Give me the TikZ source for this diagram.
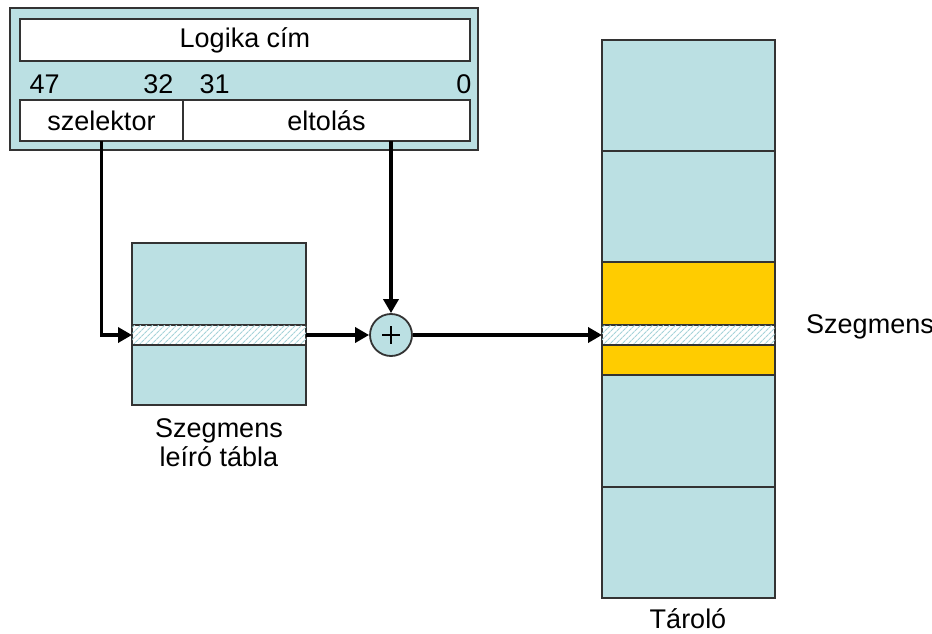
\documentclass[tikz,border=0pt]{standalone}
\usepackage{fontspec}
\setmainfont{Liberation Sans}
\usetikzlibrary{patterns.meta,arrows.meta,calc}
\definecolor{paleblue}{HTML}{BBE0E3}
\definecolor{segorange}{HTML}{FFCC00}
\definecolor{edge}{HTML}{333333}
\definecolor{hatchblue}{HTML}{A6D3D9}

\begin{document}
\begin{tikzpicture}[x=1pt,y=-1pt,
  lbl/.style={font=\fontsize{27}{29}\selectfont},
  cell/.style={draw=edge, line width=1.8pt, inner sep=0pt, outer sep=0pt,
    anchor=north west, lbl},
  mem/.style={cell, fill=paleblue, minimum width=173},
  hatched/.style={cell, fill=white, minimum width=173, minimum height=20,
    postaction={pattern={Lines[angle=45,distance=4pt,line width=1.2pt]},
      pattern color=hatchblue}},
  flow/.style={line width=3.6pt, -{Triangle[length=14pt,width=15pt]}}
]
\useasboundingbox (0,0) rectangle (932,634);

% logical address register
\node[cell, fill=paleblue, line width=2.6pt, minimum width=468, minimum height=142] (addr) at (10,8) {};
\node[cell, fill=white, minimum width=450, minimum height=42] (title) at (20,19) {Logika cím};
\node[lbl, anchor=west] (b47) at (26,84) {47};
\node[lbl, anchor=east] (b32) at (177,84) {32};
\node[lbl, anchor=west] (b31) at (196,84) {31};
\node[lbl, anchor=east] (b0) at (475,84) {0};
\node[cell, fill=white, minimum width=163, minimum height=41] (szel) at (20,100) {szelektor};
\node[cell, fill=white, minimum width=287, minimum height=41] (elt) at (183,100) {eltolás};
\coordinate (eltdrop) at (391,141);

% segment descriptor table
\node[mem, minimum width=174, minimum height=82] (t1) at (132,243) {};
\node[hatched, minimum width=174] (tstrip) at (132,325) {};
\node[mem, minimum width=174, minimum height=60] (t2) at (132,345) {};
\node[lbl, align=center] (tlabel) at (219,443) {Szegmens\\leíró tábla};

% adder
\node[circle, draw=edge, line width=1.8pt, fill=paleblue, minimum size=42, inner sep=0pt] (sum) at (391,335) {};
\draw[line width=2.8pt] ($(sum.center)+(-9,0)$) -- ($(sum.center)+(9,0)$)
  ($(sum.center)+(0,-9)$) -- ($(sum.center)+(0,9)$);

% storage
\node[mem, minimum height=111] (m1) at (602,40) {};
\node[mem, minimum height=111] (m2) at (602,151) {};
\node[cell, fill=segorange, minimum width=173, minimum height=63] (o1) at (602,262) {};
\node[hatched] (mstrip) at (602,325) {};
\node[cell, fill=segorange, minimum width=173, minimum height=30] (o2) at (602,345) {};
\node[mem, minimum height=112] (m4) at (602,375) {};
\node[mem, minimum height=111] (m5) at (602,487) {};
\node[lbl] (mlabel) at (688,619) {Tároló};
\node[lbl] (slabel) at (870,327) {Szegmens};

% connectors
\draw[flow] (szel.south) |- (tstrip.west);
\draw[flow] (eltdrop) -- (sum.north);
\draw[flow] (tstrip.east) -- (sum.west);
\draw[flow] (sum.east) -- (mstrip.west);
\end{tikzpicture}
\end{document}
